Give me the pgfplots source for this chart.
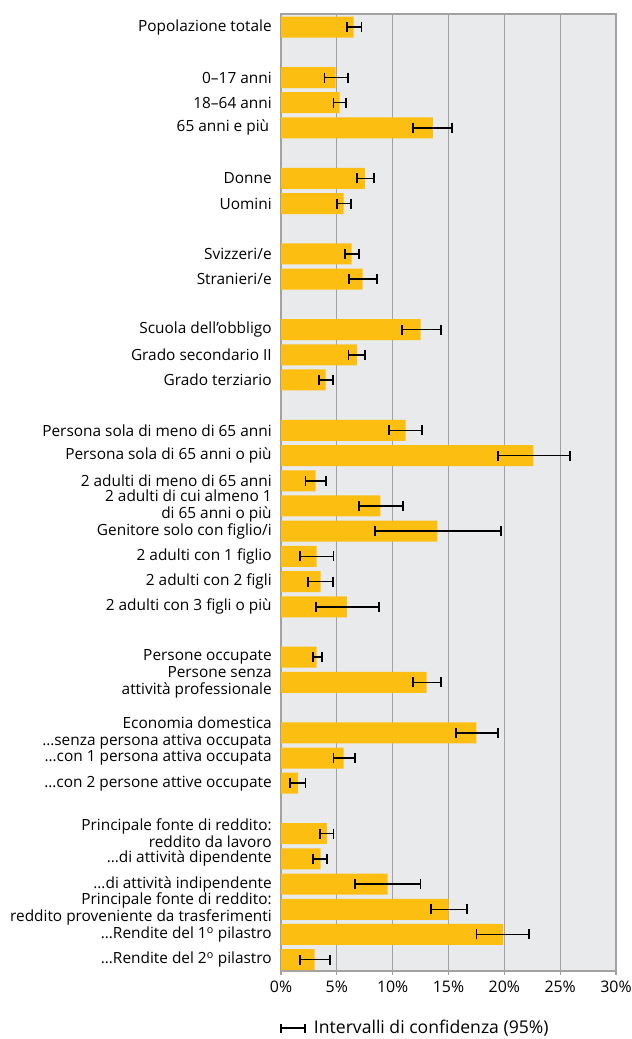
\documentclass[border=0pt]{standalone}
\usepackage{pgfplots}
\pgfplotsset{compat=1.18}
\usepackage{pgfplotstable}
\usepackage{fontspec}
\setmainfont{Open Sans}
\definecolor{barc}{HTML}{FDBE12}
\definecolor{bgc}{HTML}{E9EAEC}
\definecolor{gridc}{HTML}{A2A2A2}
\pgfplotstableread{
p v em ep
0 6.5 0.6 0.7
2 4.9 1.0 1.1
3 5.25 0.55 0.55
4 13.6 1.75 1.7
6 7.5 0.7 0.8
7 5.6 0.6 0.65
9 6.33 0.63 0.67
10 7.3 1.2 1.27
12 12.5 1.7 1.8
13 6.8 0.75 0.7
14 4.0 0.6 0.65
16 11.16 1.52 1.47
17 22.6 3.2 3.3
18 3.1 0.9 0.9
19 8.9 1.95 2.06
20 14.0 5.6 5.7
21 3.2 1.5 1.5
22 3.55 1.15 1.1
23 5.9 2.8 2.85
25 3.2 0.3 0.5
26 13.05 1.2 1.25
28 17.5 1.8 1.9
29 5.6 0.9 1.0
30 1.5 0.66 0.7
32 4.1 0.6 0.6
33 3.55 0.65 0.6
34 9.55 2.9 2.95
35 15.0 1.6 1.65
36 19.9 2.4 2.3
37 3.0 1.3 1.4
}\datatable
\begin{document}
\fontsize{15.4bp}{17bp}\selectfont
\begin{tikzpicture}
\useasboundingbox (0,0) rectangle (632bp,1039bp);
\begin{axis}[
  at={(281bp,68bp)}, anchor=south west,
  scale only axis, width=335bp, height=957bp,
  xmin=0, xmax=30, ymin=-0.52, ymax=37.45,
  y dir=reverse,
  axis background/.style={fill=bgc},
  axis line style={draw=gridc, line width=1.5bp},
  xmajorgrids, grid style={draw=gridc, line width=1.2bp},
  xtick={0,5,10,15,20,25,30},
  xticklabels={0\%,5\%,10\%,15\%,20\%,25\%,30\%},
  xtick pos=bottom, xtick align=outside, major tick length=4bp,
  xtick style={draw=gridc, line width=1.2bp},
  ytick={0,2,3,4,6,7,9,10,12,13,14,16,17,18,19,20,21,22,23,25,26,28,29,30,32,33,34,35,36,37},
  yticklabels={
    Popolazione totale,
    0–17 anni, 18–64 anni, 65 anni e più\,,
    Donne, Uomini,
    Svizzeri/e, Stranieri/e,
    Scuola dell’obbligo, Grado secondario II, Grado terziario,
    Persona sola di meno di 65 anni, Persona sola di 65 anni o più, 2 adulti di meno di 65 anni,
    {2 adulti di cui almeno 1\\di 65 anni o più}, Genitore solo con figlio/i,
    2 adulti con 1 figlio, 2 adulti con 2 figli, 2 adulti con 3 figli o più,
    Persone occupate, {Persone senza\\attività professionale},
    {Economia domestica\\…senza persona attiva occupata}, …con 1 persona attiva occupata, …con 2 persone attive occupate,
    {Principale fonte di reddito:\\reddito da lavoro}, …di attività dipendente, …di attività indipendente,
    {Principale fonte di reddito:\\reddito proveniente da trasferimenti},
    …Rendite del 1\textsuperscript{o} pilastro, …Rendite del 2\textsuperscript{o} pilastro},
  ytick style={draw=none},
  yticklabel style={align=right, font=\fontsize{15.4bp}{17bp}\selectfont, xshift=-4bp},
  xticklabel style={font=\fontsize{15.9bp}{18bp}\selectfont, yshift=-1bp},
  legend style={at={(axis description cs:0,-0.0596)}, anchor=west, draw=none, fill=none,
    xshift=-4bp, font=\fontsize{17.6bp}{20bp}\selectfont},
  legend cell align=left,
]
\addplot[xbar, bar width=21bp, fill=barc, draw=none, forget plot,
  error bars/.cd, x dir=both, x explicit, error mark=|,
  error bar style={line width=1.5bp, black},
  error mark options={line width=1.8bp, black, mark size=5bp}]
  table[x=v, y=p, x error plus=ep, x error minus=em] {\datatable};
\addlegendimage{legend image code/.code={
  \draw[line width=1.5bp, black] (0bp,0bp)--(24bp,0bp);
  \draw[line width=1.8bp, black] (0bp,-4.5bp)--(0bp,4.5bp);
  \draw[line width=1.8bp, black] (24bp,-4.5bp)--(24bp,4.5bp);}}
\addlegendentry{\hspace{6bp}Intervalli di confidenza (95\%)}
\end{axis}
\end{tikzpicture}
\end{document}
